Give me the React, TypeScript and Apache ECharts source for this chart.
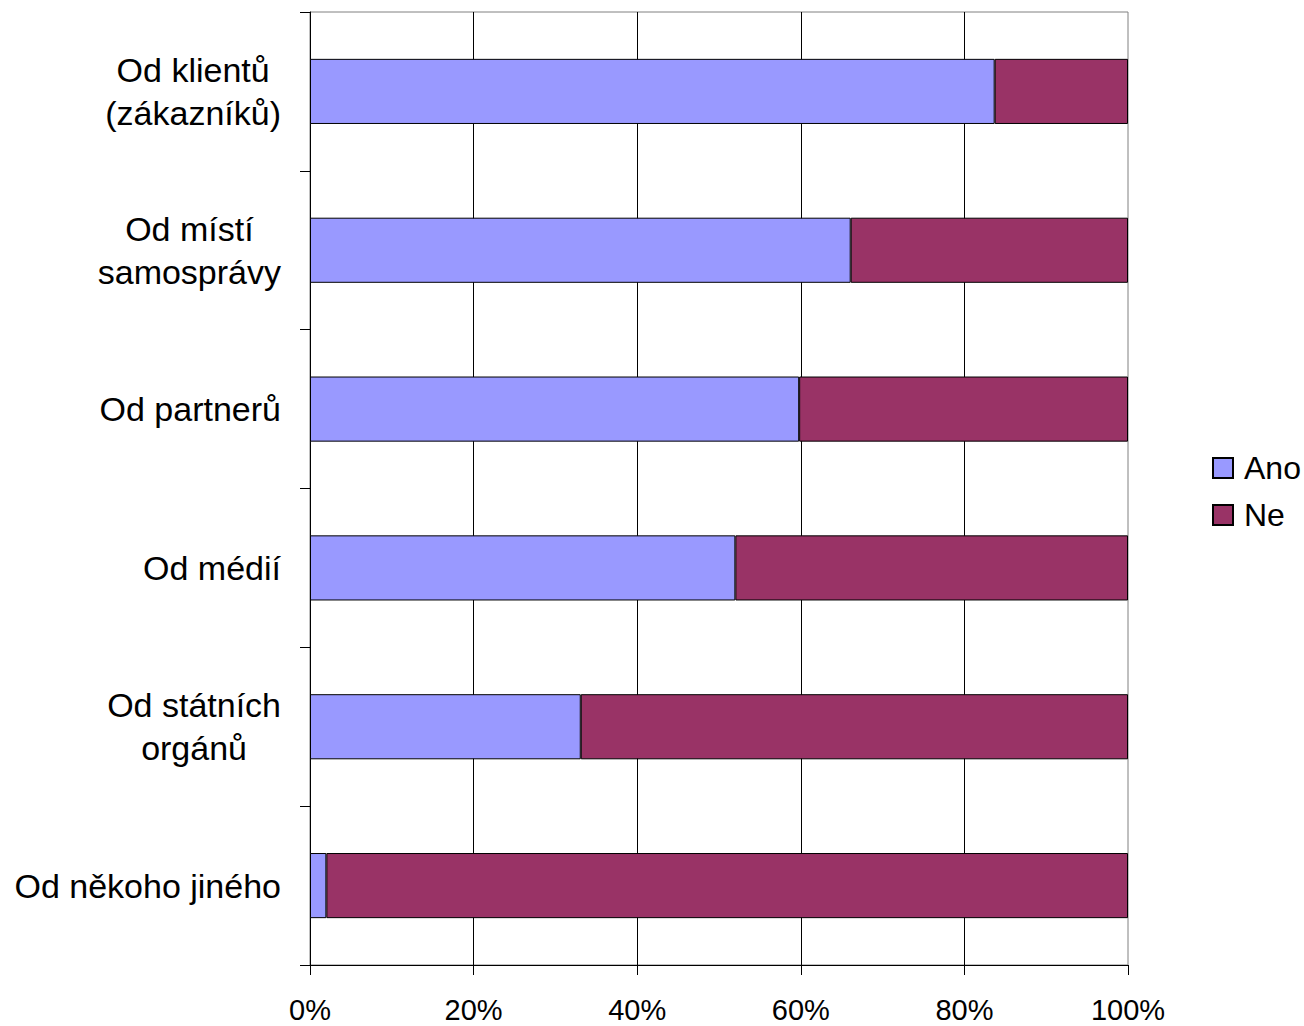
import React, { useEffect, useRef } from "react";
import * as echarts from "echarts";

const categories = [
  "Od klientů\n(zákazníků)",
  "Od místí\nsamosprávy",
  "Od partnerů",
  "Od médií",
  "Od státních\norgánů",
  "Od někoho jiného",
];
const anoValues = [83.7, 66.1, 59.8, 52.0, 33.1, 2.0];
const neValues = [16.3, 33.9, 40.2, 48.0, 66.9, 98.0];
const seriesNames = ["Ano", "Ne"];
const xTicks = { min: 0, max: 100, interval: 20 };

const FONT = "'Liberation Sans', Arial, sans-serif";

export default function App() {
  const ref = useRef<HTMLDivElement>(null);
  useEffect(() => {
    if (!ref.current) return;
    const chart = echarts.init(ref.current, undefined, { renderer: "svg" });
    chart.setOption({
      animation: false,
      backgroundColor: "#fff",
      textStyle: { fontFamily: FONT, color: "#000" },
      grid: {
        left: 310,
        right: 176,
        top: 12,
        bottom: 61,
        show: true,
        borderColor: "#808080",
        borderWidth: 1,
      },
      legend: {
        orient: "vertical",
        left: 1212,
        top: 452,
        itemWidth: 20,
        itemHeight: 20,
        itemGap: 15,
        icon: "rect",
        padding: 0,
        textStyle: { fontSize: 32, color: "#000", fontFamily: FONT, lineHeight: 32, padding: [0, 0, 0, 6] },
        data: seriesNames,
      },
      xAxis: {
        type: "value",
        min: xTicks.min,
        max: xTicks.max,
        interval: xTicks.interval,
        axisLine: { show: true, lineStyle: { color: "#000", width: 1 } },
        axisTick: { show: true, length: 10, lineStyle: { color: "#000" } },
        axisLabel: {
          formatter: "{value}%",
          fontSize: 29,
          color: "#000",
          fontFamily: FONT,
          margin: 30,
        },
        splitLine: {
          show: true,
          showMinLine: false,
          showMaxLine: false,
          lineStyle: { color: "#000", width: 1 },
        },
      },
      yAxis: {
        type: "category",
        inverse: true,
        data: categories,
        axisLine: { show: true, lineStyle: { color: "#000", width: 1 } },
        axisTick: { show: true, length: 10, lineStyle: { color: "#000" } },
        axisLabel: {
          margin: 29,
          color: "#000",
          fontSize: 34,
          fontFamily: FONT,
          formatter: (v: string) =>
            v
              .split("\n")
              .map((l) => `{c|${l}}`)
              .join("\n"),
          rich: {
            c: {
              align: "center",
              fontSize: 34,
              lineHeight: 43,
              fontFamily: FONT,
              color: "#000",
            },
          },
        },
        splitLine: { show: false },
      },
      series: [
        {
          name: seriesNames[0],
          type: "bar",
          stack: "total",
          barWidth: "41%",
          data: anoValues,
          itemStyle: { color: "#9999FF", borderColor: "#000", borderWidth: 1 },
        },
        {
          name: seriesNames[1],
          type: "bar",
          stack: "total",
          barWidth: "41%",
          data: neValues,
          itemStyle: { color: "#993366", borderColor: "#000", borderWidth: 1 },
        },
      ],
    });
    return () => chart.dispose();
  }, []);
  return <div ref={ref} style={{ width: 1304, height: 1026, position: "absolute", left: 0, top: 0 }} />;
}
